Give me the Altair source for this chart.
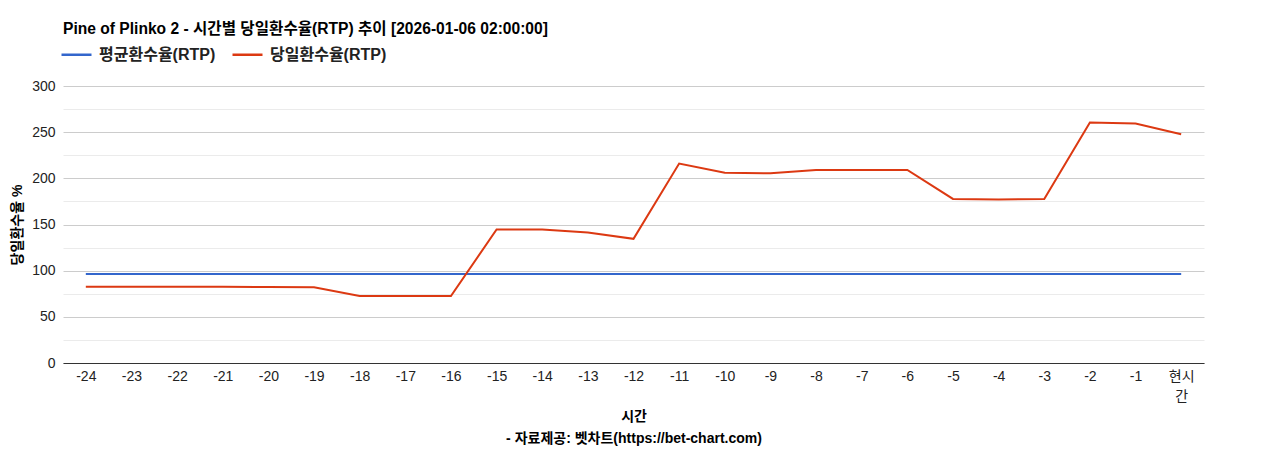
import pandas as pd
import altair as alt

FONT = "Liberation Sans, Noto Sans CJK KR, sans-serif"

hours = ["-24", "-23", "-22", "-21", "-20", "-19", "-18", "-17", "-16", "-15",
         "-14", "-13", "-12", "-11", "-10", "-9", "-8", "-7", "-6", "-5",
         "-4", "-3", "-2", "-1", "현시간"]
avg_rtp = [96.3] * 25
day_rtp = [82.5, 82.5, 82.5, 82.5, 82.2, 82.0, 72.5, 72.5, 72.5, 144.6,
           144.6, 141.3, 134.5, 216.0, 206.0, 205.5, 209.0, 209.0, 209.0, 177.7,
           177.0, 177.7, 260.4, 259.3, 247.7]

series_names = ["평균환수율(RTP)", "당일환수율(RTP)"]
series_colors = ["#3366cc", "#dc3912"]

rows = []
for h, a, d in zip(hours, avg_rtp, day_rtp):
    rows.append({"hour": h, "series": series_names[0], "value": a})
    rows.append({"hour": h, "series": series_names[1], "value": d})
df = pd.DataFrame(rows)

chart = alt.Chart(df).mark_line(strokeWidth=2).encode(
    x=alt.X("hour:N", sort=hours,
            title=["시간", "- 자료제공: 벳차트(https://bet-chart.com)"],
            axis=alt.Axis(labelAngle=0, labelFontSize=14, labelColor="#222",
                          labelExpr="datum.value == '현시간' ? ['현시', '간'] : datum.label",
                          labelLineHeight=20,
                          ticks=False, domainColor="#333", labelPadding=6,
                          titleFontSize=14, titleFontWeight="bold", titleColor="#000",
                          titlePadding=6, titleLineHeight=22)),
    y=alt.Y("value:Q", title="당일환수율 %",
            scale=alt.Scale(domain=[0, 300], nice=False),
            axis=alt.Axis(values=list(range(0, 301, 25)),
                          labelExpr="datum.value % 50 === 0 ? datum.label : ''",
                          gridColor={"condition": {"test": "datum.value % 50 !== 0",
                                                   "value": "#ebebeb"},
                                     "value": "#cccccc"},
                          domain=False, ticks=False, labelFontSize=14,
                          labelColor="#222", labelPadding=8,
                          titleFontSize=14, titleFontWeight="bold", titleColor="#000",
                          titlePadding=7)),
    color=alt.Color("series:N", sort=series_names,
                    scale=alt.Scale(domain=series_names, range=series_colors),
                    legend=alt.Legend(title=None, orient="none", direction="horizontal",
                                      legendX=-3, legendY=-48,
                                      symbolType="stroke", symbolSize=900,
                                      symbolStrokeWidth=2.5, labelFontSize=16,
                                      labelFontWeight="bold", labelColor="#222",
                                      columnPadding=11, labelOffset=6)),
).properties(
    width=1141,
    height=277,
    autosize=alt.AutoSizeParams(type="none"),
    padding={"left": 55, "top": 78, "right": 56, "bottom": 86},
    title=alt.TitleParams("Pine of Plinko 2 - 시간별 당일환수율(RTP) 추이 [2026-01-06 02:00:00]",
                          anchor="start", frame="group", fontSize=15.6, fontWeight="bold",
                          color="#000", offset=0),
).configure(
    font=FONT,
).configure_view(
    strokeWidth=0,
)

chart.save("out.html", embed_options={"renderer": "svg", "actions": False})
